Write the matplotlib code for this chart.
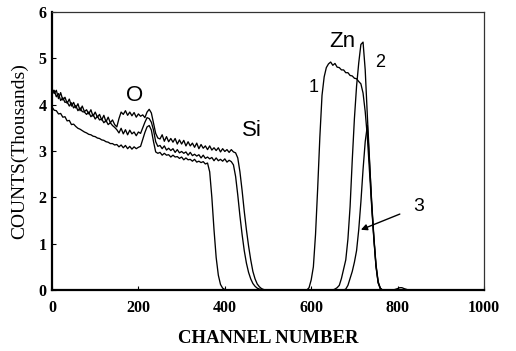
import numpy as np
import matplotlib
matplotlib.use("Agg")
import matplotlib.pyplot as plt

# ---------------- data ----------------
# Curve A : thickest Zn layer (Zn peak "1"), Si edge ~370
ch_A = np.concatenate([np.arange(0, 410, 5), [590], np.arange(595, 770, 5), [1000]])
counts_A_low = [3.95, 3.88, 3.87, 3.80, 3.81, 3.73, 3.74, 3.65, 3.66, 3.57,
                3.58, 3.53, 3.49, 3.47, 3.44, 3.41, 3.39, 3.36, 3.35, 3.32,
                3.31, 3.28, 3.27, 3.24, 3.23, 3.20, 3.19, 3.16, 3.16, 3.13]
counts_A_O = [3.14, 3.09, 3.13, 3.07, 3.12, 3.05, 3.10, 3.04, 3.09, 3.05,
              3.08, 3.10, 3.25, 3.40, 3.52, 3.55, 3.45, 3.20, 2.98, 2.95]
counts_A_Si = [2.97, 2.91, 2.95, 2.91, 2.92, 2.87, 2.91, 2.87, 2.88, 2.84,
               2.87, 2.81, 2.85, 2.81, 2.82, 2.78, 2.82, 2.76, 2.78, 2.75,
               2.77, 2.72, 2.74]
counts_A_edge = [2.55, 2.00, 1.30, 0.70, 0.32, 0.12, 0.04, 0.01, 0.0]
counts_A_Zn = [0.0,
               0.05, 0.22, 0.50, 1.20, 2.20, 3.30, 4.20, 4.60, 4.80, 4.88,
               4.92, 4.85, 4.89, 4.81, 4.80, 4.75, 4.75, 4.69, 4.69, 4.63,
               4.62, 4.57, 4.56, 4.50, 4.45, 4.25, 3.85, 3.30, 2.55, 1.80,
               1.10, 0.50, 0.15, 0.03, 0.0,
               0.0]

# Curve B : Zn peak "2", Si edge ~431
ch_B = np.concatenate([np.arange(0, 495, 5), [650], np.arange(655, 770, 5), [1000]])
counts_B_low = [4.28, 4.31, 4.17, 4.24, 4.09, 4.15, 4.05, 4.06, 3.97, 4.04,
                3.93, 3.98, 3.87, 3.93, 3.85, 3.84, 3.79, 3.84, 3.74, 3.79,
                3.69, 3.75, 3.67, 3.69, 3.61, 3.66, 3.57, 3.61, 3.55, 3.51]
counts_B_O = [3.46, 3.39, 3.49, 3.37, 3.46, 3.35, 3.45, 3.37, 3.41, 3.33,
              3.41, 3.38, 3.50, 3.62, 3.72, 3.70, 3.62, 3.45, 3.20, 3.10]
counts_B_Si = [3.12, 3.05, 3.11, 3.02, 3.06, 3.01, 3.05, 2.97, 3.03, 2.96,
               2.99, 2.95, 2.98, 2.91, 2.97, 2.90, 2.93, 2.89, 2.92, 2.85,
               2.91, 2.84, 2.87, 2.83, 2.86, 2.79, 2.85, 2.79, 2.82, 2.78,
               2.83, 2.76, 2.80, 2.77, 2.70, 2.45]
counts_B_edge = [2.05, 1.60, 1.20, 0.85, 0.58, 0.38, 0.24, 0.14, 0.08, 0.04,
                 0.02, 0.01, 0.0]
counts_B_Zn = [0.0,
               0.02, 0.05, 0.10, 0.25, 0.45, 0.65, 1.10, 1.80, 2.80, 3.70,
               4.40, 4.90, 5.30, 5.35, 4.75, 3.75, 2.80, 1.85, 1.12, 0.52,
               0.16, 0.03, 0.0,
               0.0]

# Curve C : Zn peak "3", Si edge ~442
ch_C = np.concatenate([np.arange(0, 500, 5), [675], np.arange(680, 770, 5),
                       [790, 800, 805, 810, 815, 825, 1000]])
counts_C_low = [4.35, 4.24, 4.31, 4.13, 4.26, 4.10, 4.16, 4.03, 4.12, 3.97,
                4.05, 3.93, 4.02, 3.87, 3.97, 3.85, 3.89, 3.80, 3.89, 3.75,
                3.84, 3.73, 3.79, 3.67, 3.77, 3.63, 3.73, 3.61, 3.67, 3.57]
counts_C_O = [3.52, 3.70, 3.84, 3.79, 3.87, 3.77, 3.84, 3.76, 3.83, 3.73,
              3.80, 3.75, 3.78, 3.72, 3.84, 3.90, 3.82, 3.60, 3.38, 3.28]
counts_C_Si = [3.26, 3.35, 3.21, 3.31, 3.20, 3.27, 3.19, 3.27, 3.15, 3.24,
               3.15, 3.23, 3.11, 3.20, 3.11, 3.17, 3.08, 3.17, 3.05, 3.14,
               3.06, 3.11, 3.03, 3.11, 3.02, 3.07, 3.01, 3.07, 2.98, 3.05,
               2.99, 3.03, 2.97, 3.03, 2.98, 2.96]
counts_C_edge = [2.85, 2.55, 2.15, 1.70, 1.30, 0.95, 0.65, 0.40, 0.24, 0.13,
                 0.07, 0.03, 0.01, 0.0]
counts_C_Zn = [0.0,
               0.02, 0.10, 0.25, 0.40, 0.60, 0.85, 1.30, 1.90, 2.60, 3.20,
               3.55, 2.75, 1.90, 1.15, 0.55, 0.18, 0.04, 0.0]
counts_C_tail = [0.0, 0.03, 0.05, 0.05, 0.03, 0.0, 0.0]

counts_A = counts_A_low + counts_A_O + counts_A_Si + counts_A_edge + counts_A_Zn
counts_B = counts_B_low + counts_B_O + counts_B_Si + counts_B_edge + counts_B_Zn
counts_C = counts_C_low + counts_C_O + counts_C_Si + counts_C_edge + counts_C_Zn + counts_C_tail
assert len(ch_A) == len(counts_A), (len(ch_A), len(counts_A))
assert len(ch_B) == len(counts_B), (len(ch_B), len(counts_B))
assert len(ch_C) == len(counts_C), (len(ch_C), len(counts_C))

x_ticks = [0, 200, 400, 600, 800, 1000]
y_ticks = [0, 1, 2, 3, 4, 5, 6]

# ---------------- figure ----------------
serif = ["Liberation Serif", "DejaVu Serif"]
sans = ["Liberation Sans", "DejaVu Sans"]

fig = plt.figure(figsize=(5.16, 3.51), dpi=100)
ax = fig.add_axes([0.1008, 0.1738, 0.8372, 0.792])

for ch, cnt in [(ch_A, counts_A), (ch_B, counts_B), (ch_C, counts_C)]:
    ax.plot(ch, cnt, color="black", lw=0.95)

ax.set_xlim(0, 1000)
ax.set_ylim(0, 6)
ax.set_xticks(x_ticks)
ax.set_yticks(y_ticks)
for lab in ax.get_xticklabels() + ax.get_yticklabels():
    lab.set_fontfamily(serif)
    lab.set_fontweight("bold")
    lab.set_fontsize(11.5)
ax.tick_params(axis="both", direction="in", length=3, width=0.8)
ax.tick_params(axis="x", pad=7)
ax.tick_params(axis="y", pad=4)

for s in ["left", "bottom"]:
    ax.spines[s].set_linewidth(1.6)
    ax.spines[s].set_color("black")
for s in ["top", "right"]:
    ax.spines[s].set_linewidth(0.9)
    ax.spines[s].set_color("#333333")

ax.set_xlabel("CHANNEL NUMBER", fontfamily=serif, fontweight="bold",
              fontsize=13.5, labelpad=10)
ax.set_ylabel("COUNTS(Thousands)", fontfamily=serif, fontsize=14, labelpad=7)

ax.text(192, 4.2, "O", fontfamily=sans, fontsize=16, ha="center", va="center")
ax.text(463, 3.45, "Si", fontfamily=sans, fontsize=16, ha="center", va="center")
ax.text(671, 5.36, "Zn", fontfamily=sans, fontsize=16, ha="center", va="center")
ax.text(606, 4.36, "1", fontfamily=sans, fontsize=13, ha="center", va="center")
ax.text(759, 4.92, "2", fontfamily=sans, fontsize=13, ha="center", va="center")
ax.annotate("3", xy=(715, 1.3), xytext=(848, 1.8), fontfamily=sans, fontsize=14,
            ha="center", va="center",
            arrowprops=dict(arrowstyle="-|>", color="black", lw=1.0,
                            shrinkA=8, shrinkB=0, mutation_scale=9))

fig.savefig("out.png", dpi=100)
